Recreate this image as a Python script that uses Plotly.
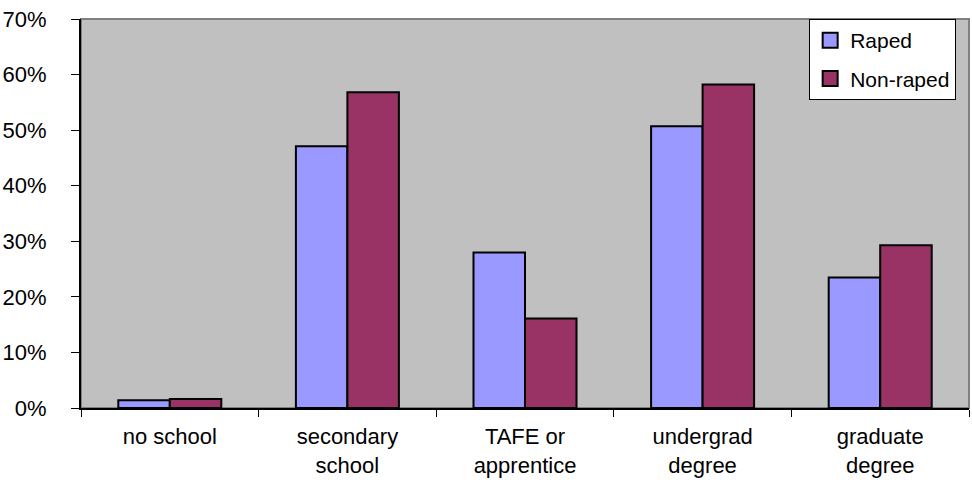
import plotly.graph_objects as go

categories = ["no school", "secondary<br>school", "TAFE or<br>apprentice", "undergrad<br>degree", "graduate<br>degree"]
raped = [1.4, 47.1, 28.0, 50.7, 23.5]
non_raped = [1.6, 56.8, 16.1, 58.2, 29.3]

series = [("Raped", raped, "#9999FF"), ("Non-raped", non_raped, "#993366")]

font = dict(family="Liberation Sans, Arial, sans-serif", size=22, color="black")

fig = go.Figure()
for name, vals, color in series:
    fig.add_trace(go.Bar(x=categories, y=vals, name=name, showlegend=False,
                         marker=dict(color=color, line=dict(color="black", width=2))))
# legend keys as square swatches
for name, vals, color in series:
    fig.add_trace(go.Scatter(x=[None], y=[None], mode="markers", name=name,
                             legendgroup=name,
                             marker=dict(symbol="square", size=15, color=color,
                                         line=dict(color="black", width=2))))

# gray frame on the top/right edges of the plot area
fig.add_shape(type="rect", xref="paper", yref="paper", x0=0, x1=1, y0=0, y1=1,
              line=dict(color="#808080", width=2), layer="below")

fig.update_layout(
    width=972, height=485,
    margin=dict(l=81, r=3, t=19, b=77),
    plot_bgcolor="#C0C0C0", paper_bgcolor="white",
    barmode="group", bargap=0.42, bargroupgap=0,
    font=font,
    showlegend=True,
    legend=dict(x=0.82, y=1.0, xanchor="left", yanchor="top",
                bgcolor="white", bordercolor="black", borderwidth=1,
                font=dict(size=21), itemwidth=30, tracegroupgap=8),
    xaxis=dict(showgrid=False, showline=True, linecolor="black", linewidth=2,
               ticks="outside", tickson="boundaries", ticklen=7, tickcolor="black",
               tickfont=font, ticklabelstandoff=8, automargin=False),
    yaxis=dict(range=[0, 70], dtick=10, ticksuffix="%", showgrid=False,
               showline=True, linecolor="black", linewidth=2,
               ticks="outside", ticklen=8, tickcolor="black", tickfont=font,
               zeroline=False, ticklabelstandoff=20, automargin=False),
)

fig.write_html("out.html")
